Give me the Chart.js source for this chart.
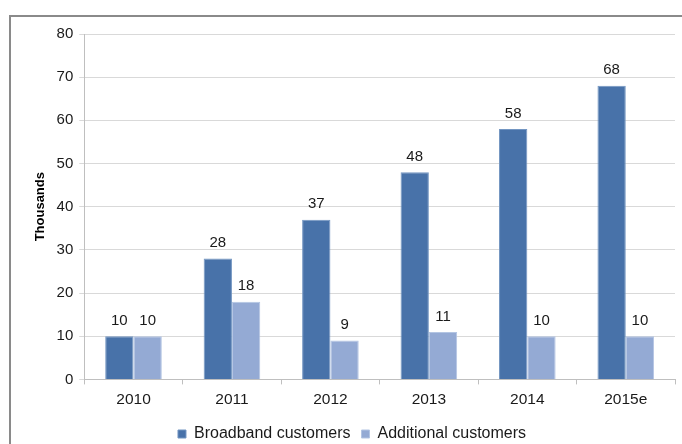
<!DOCTYPE html>
<html>
<head>
<meta charset="utf-8">
<script src="https://cdn.jsdelivr.net/npm/chart.js@4"></script>
<style>
  html, body { margin: 0; padding: 0; background: #fff; overflow: hidden; }
  #wrap { position: relative; width: 682px; height: 444px; overflow: hidden; }
  #frame { position: absolute; left: 9px; top: 15px; width: 700px; height: 460px; border: 2px solid #8a8a8a; box-sizing: border-box; }
  canvas { position: absolute; left: 0; top: 0; }
</style>
</head>
<body>
<div id="wrap">
  <div id="frame"></div>
  <canvas id="chartCanvas" width="682" height="452"></canvas>
</div>
<script>
const years = ["2010", "2011", "2012", "2013", "2014", "2015e"];
const broadband = [10, 28, 37, 48, 58, 68];
const additional = [10, 18, 9, 11, 10, 10];
const yTicks = [0, 10, 20, 30, 40, 50, 60, 70, 80];

const FONT = "'Liberation Sans', Arial, sans-serif";

// подписи значений над столбцами
const valueLabels = {
  id: "valueLabels",
  afterDatasetsDraw(chart) {
    const ctx = chart.ctx;
    ctx.save();
    ctx.font = "15px " + FONT;
    ctx.fillStyle = "#1a1a1a";
    ctx.textAlign = "center";
    ctx.textBaseline = "bottom";
    chart.data.datasets.forEach((ds, i) => {
      chart.getDatasetMeta(i).data.forEach((bar, j) => {
        ctx.fillText(String(ds.data[j]), bar.x, bar.y - 8);
      });
    });
    ctx.restore();
  }
};

const ctx = document.getElementById("chartCanvas").getContext("2d");
new Chart(ctx, {
  type: "bar",
  data: {
    labels: years,
    datasets: [
      {
        label: "Broadband customers",
        data: broadband,
        backgroundColor: "#4872a9",
        borderColor: "#7396c2",
        borderWidth: 1,
        categoryPercentage: 0.575,
        barPercentage: 1
      },
      {
        label: "Additional customers",
        data: additional,
        backgroundColor: "#94aad4",
        borderColor: "#b3c5e3",
        borderWidth: 1,
        categoryPercentage: 0.575,
        barPercentage: 1
      }
    ]
  },
  options: {
    responsive: false,
    animation: false,
    layout: { padding: { left: 29, top: 34, right: 7, bottom: 0 } },
    scales: {
      x: {
        grid: { drawOnChartArea: false, drawTicks: true, tickLength: 5, color: "#bfbfbf" },
        border: { color: "#bfbfbf" },
        ticks: { color: "#1a1a1a", font: { family: FONT, size: 15.5 }, padding: 6 }
      },
      y: {
        min: 0,
        max: 80,
        afterBuildTicks: (axis) => { axis.ticks = yTicks.map(v => ({ value: v })); },
        grid: { color: "#d9d9d9", tickLength: 5 },
        border: { color: "#bfbfbf" },
        ticks: { color: "#1a1a1a", font: { family: FONT, size: 15 }, padding: 6 },
        title: {
          display: true,
          text: "Thousands",
          color: "#000",
          font: { family: FONT, size: 13, weight: "bold" },
          padding: { top: 4, bottom: 2 }
        }
      }
    },
    plugins: {
      legend: {
        position: "bottom",
        labels: {
          boxWidth: 8,
          boxHeight: 8,
          color: "#1a1a1a",
          font: { family: FONT, size: 16 },
          padding: 11
        }
      },
      tooltip: { enabled: false }
    }
  },
  plugins: [valueLabels]
});
</script>
</body>
</html>
